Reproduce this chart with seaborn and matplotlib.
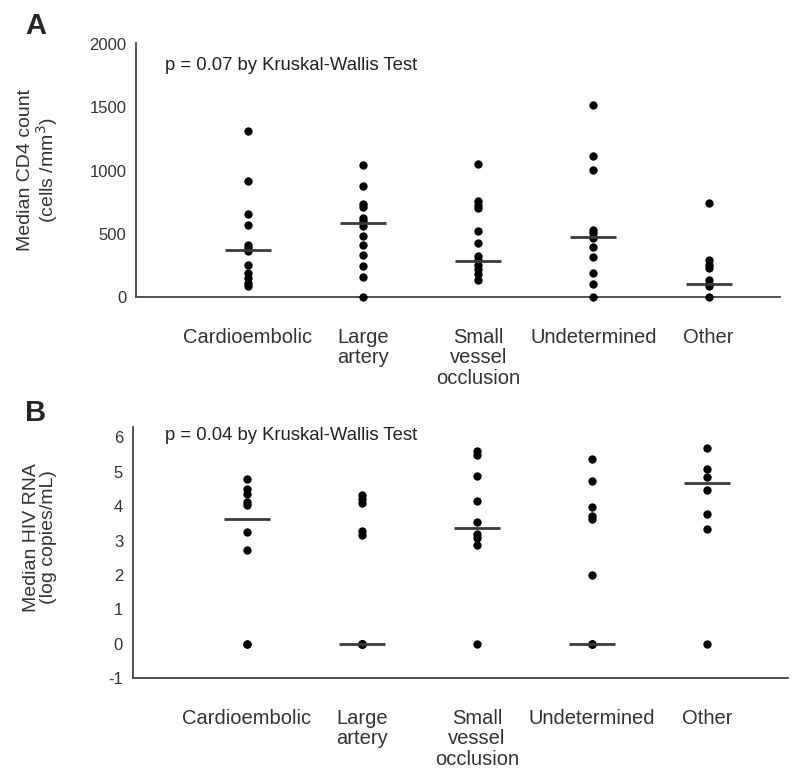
import numpy as np
import pandas as pd
import seaborn as sns
import matplotlib.pyplot as plt

categories = ['Cardioembolic', 'Large\nartery', 'Small\nvessel\nocclusion', 'Undetermined', 'Other']

# Panel A: CD4 counts (cells/mm3)
cd4_cardio = [1310, 920, 660, 570, 410, 385, 360, 255, 190, 150, 110, 90]
cd4_large = [1048, 876, 735, 712, 624, 598, 558, 484, 413, 333, 246, 161, 0]
cd4_small = [1056, 757, 730, 704, 526, 431, 325, 294, 254, 220, 183, 135]
cd4_undet = [1516, 1119, 1008, 532, 505, 466, 394, 320, 193, 103, 0]
cd4_other = [743, 294, 254, 228, 135, 103, 87, 0]
cd4_medians = [373, 584, 288, 474, 103]

# Panel B: HIV RNA (log copies/mL)
rna_cardio = [4.80, 4.50, 4.36, 4.13, 4.04, 3.25, 2.72, 0, 0]
rna_large = [4.33, 4.22, 4.08, 3.27, 3.15, 0, 0, 0, 0, 0]
rna_small = [5.61, 5.50, 4.87, 4.15, 3.54, 3.20, 3.06, 2.88, 0]
rna_undet = [5.36, 4.73, 3.99, 3.71, 3.62, 2.01, 0, 0, 0]
rna_other = [5.70, 5.08, 4.84, 4.47, 3.76, 3.34, 0]
rna_medians = [3.64, 0, 3.36, 0, 4.66]


def long_df(groups):
    rows = []
    for cat, vals in zip(categories, groups):
        for v in vals:
            rows.append({'group': cat, 'value': v})
    return pd.DataFrame(rows)


df_a = long_df([cd4_cardio, cd4_large, cd4_small, cd4_undet, cd4_other])
df_b = long_df([rna_cardio, rna_large, rna_small, rna_undet, rna_other])

sns.set_style('white')
plt.rcParams['font.family'] = ['Liberation Sans', 'DejaVu Sans']
plt.rcParams['axes.unicode_minus'] = False
text_col = '#333333'
axis_col = '#444444'

fig = plt.figure(figsize=(8, 7.71), dpi=100)
ax_a = fig.add_axes([0.170, 0.6148, 0.805, 0.3295])
ax_b = fig.add_axes([0.166, 0.1206, 0.819, 0.3254])


def draw_panel(ax, df, medians, ylim, yticks, ylabel, ptext, ptext_pos, label_x, label_y):
    sns.stripplot(data=df, x='group', y='value', order=categories, jitter=False,
                  color='black', size=6, ax=ax)
    for c in ax.collections:
        c.set_clip_on(False)
    pos = np.arange(len(categories))
    ax.hlines(medians, pos - 0.2, pos + 0.2, colors='#3a3a3a', linewidth=2, zorder=3)
    ax.set_ylim(*ylim)
    ax.set_yticks(yticks)
    ax.set_xticks(pos)
    ax.set_xticklabels(categories, fontsize=14.5, color=text_col, linespacing=1.1)
    ax.set_xlabel('')
    ax.set_ylabel(ylabel, fontsize=14, color=text_col, linespacing=1.0)
    ax.yaxis.set_label_coords(label_x, label_y)
    ax.tick_params(axis='y', labelsize=12, labelcolor=text_col, direction='out',
                   length=3, width=1, color=axis_col, pad=4)
    ax.tick_params(axis='x', direction='in', length=5, width=1, color=axis_col, pad=22)
    for s in ['top', 'right']:
        ax.spines[s].set_visible(False)
    for s in ['left', 'bottom']:
        ax.spines[s].set_color(axis_col)
        ax.spines[s].set_linewidth(1.3)
    ax.text(ptext_pos[0], ptext_pos[1], ptext, transform=ax.transAxes,
            fontsize=13.3, color='#222222', va='center', ha='left')


draw_panel(ax_a, df_a, cd4_medians, (0, 2010), [0, 500, 1000, 1500, 2000],
           'Median CD4 count\n(cells /mm$^3$)', 'p = 0.07 by Kruskal-Wallis Test',
           (0.045, 0.913), -0.118, 0.5)
ax_a.set_xlim(-0.97, 4.62)

draw_panel(ax_b, df_b, rna_medians, (-1, 6.3), list(range(-1, 7)),
           'Median HIV RNA\n(log copies/mL)', 'p = 0.04 by Kruskal-Wallis Test',
           (0.049, 0.968), -0.115, 0.56)
ax_b.set_xlim(-0.99, 4.70)

fig.text(0.031, 0.985, 'A', fontsize=21, fontweight='bold', va='top', ha='left')
fig.text(0.031, 0.483, 'B', fontsize=21, fontweight='bold', va='top', ha='left')

fig.savefig('out.png', dpi=100)
